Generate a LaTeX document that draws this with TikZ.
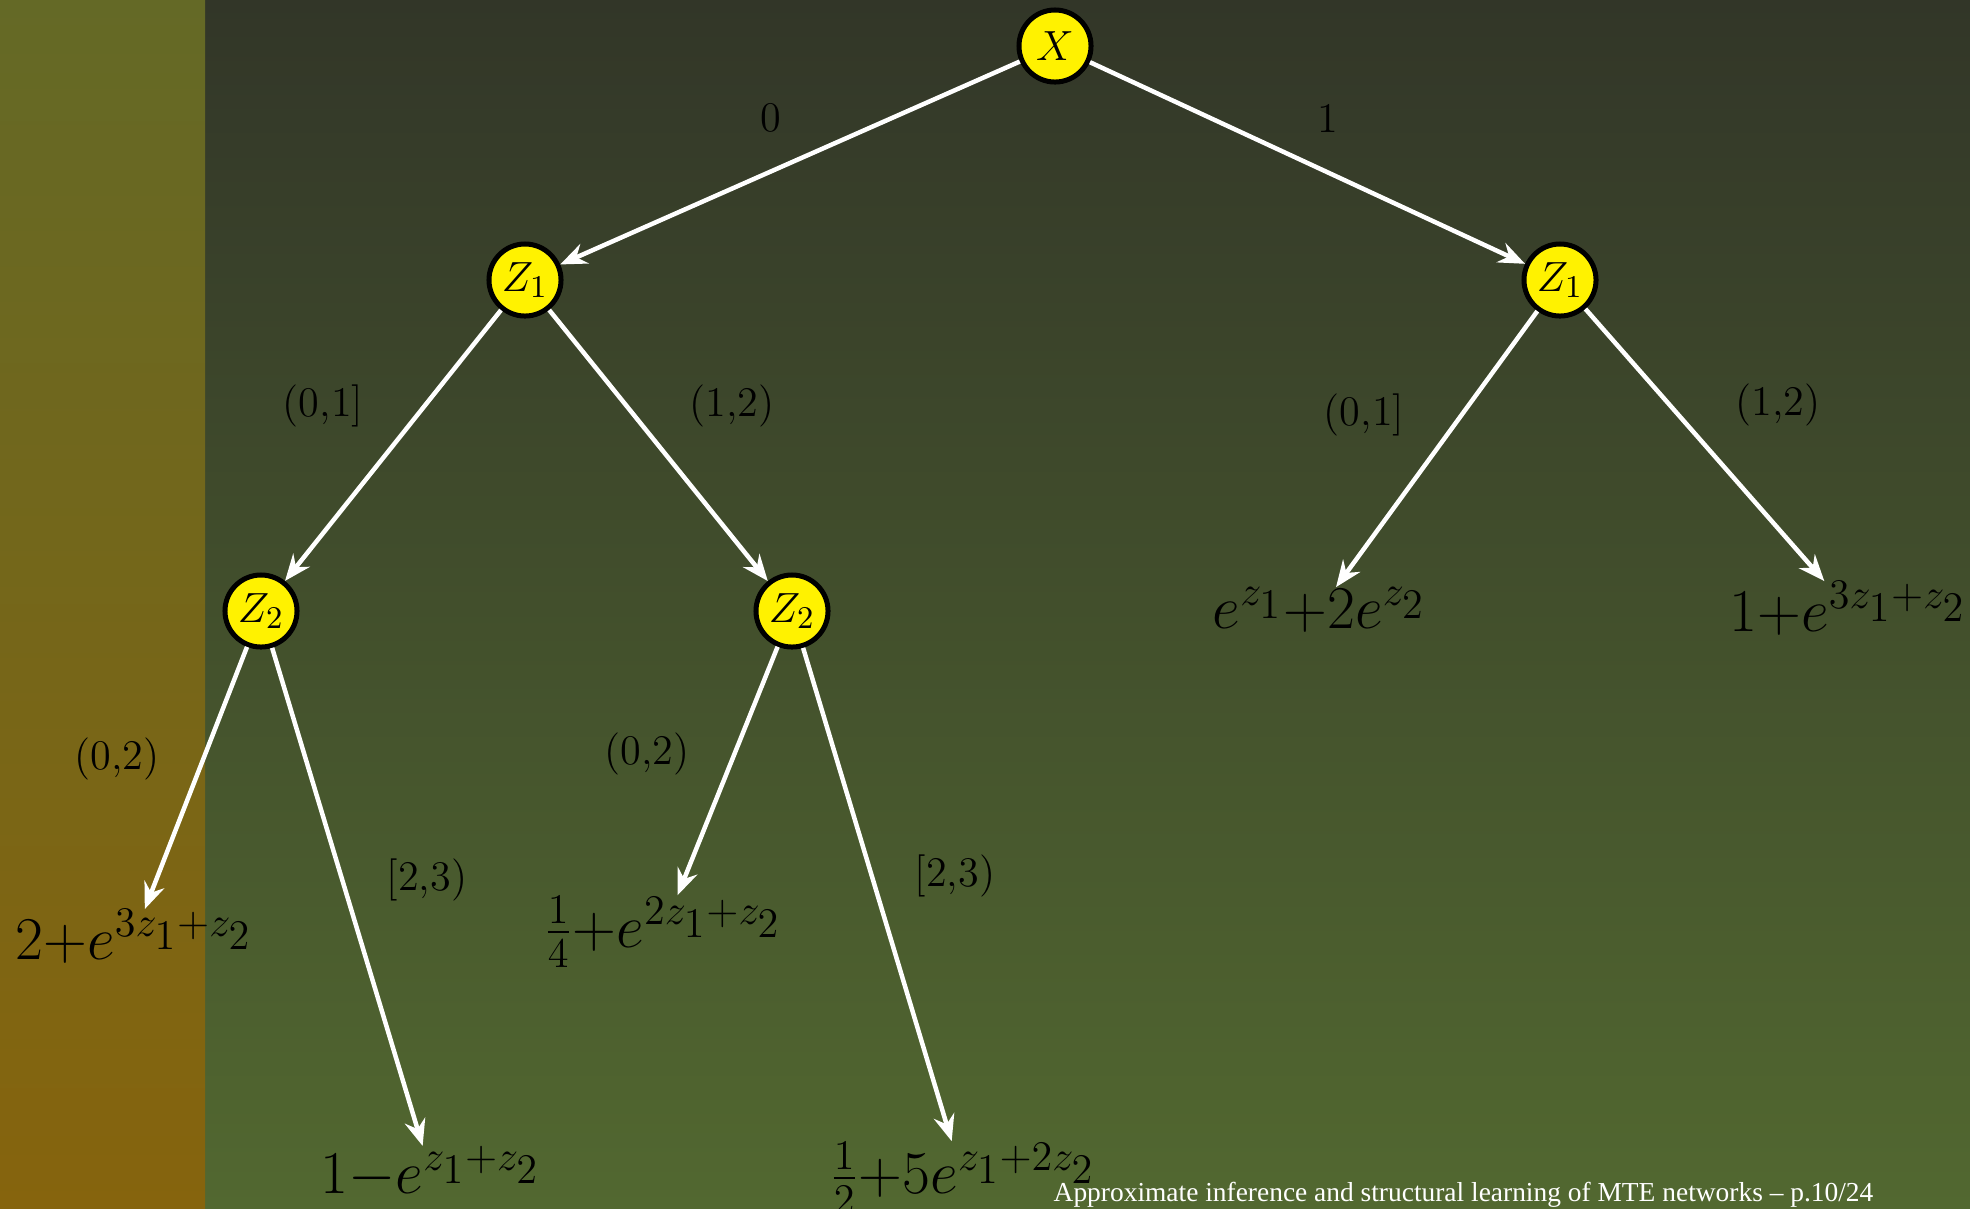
\documentclass[tikz,border=0pt]{standalone}
\usepackage{fontspec}
\usepackage{tikz}
\usetikzlibrary{arrows.meta}
\newfontfamily\slidefoot{Liberation Serif}
\definecolor{stripTop}{RGB}{100,105,38}
\definecolor{stripBot}{RGB}{134,100,13}
\definecolor{slideTop}{RGB}{50,54,40}
\definecolor{slideBot}{RGB}{82,104,48}
\newcommand{\zsub}[1]{z_{\scriptstyle #1}}
\tikzset{
  cvertex/.style={
    circle,
    draw=black,
    fill=yellow,
    line width=0.05cm,
    minimum size=0.72cm,
    inner sep=0pt,
    font=\fontsize{12.5}{14}\selectfont
  },
  leafval/.style={
    anchor=base west,
    inner sep=0pt,
    font=\fontsize{18}{20}\selectfont
  },
  treearc/.style={
    -{Stealth[length=7.5pt,width=6pt,inset=2.5pt]},
    draw=white,
    line width=0.045cm
  },
  intlabel/.style={
    font=\fontsize{12}{14}\selectfont
  }
}

\begin{document}
\begin{tikzpicture}[x=0.01cm,y=-0.01cm]
  \useasboundingbox (0,0) rectangle (1970,1208);
  \shade[top color=slideTop,bottom color=slideBot] (205,0) rectangle (1970,1208);
  \shade[top color=stripTop,bottom color=stripBot] (0,0) rectangle (205,1208);

  \node[cvertex] (x) at (1055,46) {$X$};
  \node[cvertex] (z1a) at (525,280) {$Z_1$};
  \node[cvertex] (z1b) at (1560,280) {$Z_1$};
  \node[cvertex] (z2a) at (261,611) {$Z_2$};
  \node[cvertex] (z2b) at (792,611) {$Z_2$};

  % leaves
  \node[leafval] (fa) at (15,959) {$2{+}e^{3\zsub1+\zsub2}$};
  \node[leafval] (fb) at (320,1193) {$1{-}e^{\zsub1+\zsub2}$};
  \node[leafval] (fc) at (543,947) {$\frac{1}{4}{+}e^{2\zsub1+\zsub2}$};
  \node[leafval] (fd) at (829,1193) {$\frac{1}{2}{+}5e^{\zsub1+2\zsub2}$};
  \node[leafval] (fe) at (1212,628) {$e^{\zsub1}{+}2e^{\zsub2}$};
  \node[leafval] (ff) at (1729,631) {$1{+}e^{3\zsub1+\zsub2}$};

  \draw[treearc] (x) -- (z1a);
  \draw[treearc] (x) -- (z1b);
  \draw[treearc] (z1a) -- (z2a);
  \draw[treearc] (z1a) -- (z2b);
  \draw[treearc] (z1b) -- (fe);
  \draw[treearc] (z1b) -- (ff);
  \draw[treearc] (z2a) -- (fa);
  \draw[treearc] (z2a) -- (fb);
  \draw[treearc] (z2b) -- (fc);
  \draw[treearc] (z2b) -- (fd);

  % intervals
  \node[intlabel] (l0) at (771,118) {0};
  \node[intlabel] (l1) at (1328,118) {1};
  \node[intlabel] (la1) at (323,406) {(0,1]};
  \node[intlabel] (la2) at (732,406) {(1,2)};
  \node[intlabel] (lb1) at (1364,415) {(0,1]};
  \node[intlabel] (lb2) at (1778,405) {(1,2)};
  \node[intlabel] (lc1) at (117,759) {(0,2)};
  \node[intlabel] (lc2) at (427,880) {[2,3)};
  \node[intlabel] (ld1) at (647,754) {(0,2)};
  \node[intlabel] (ld2) at (955,876) {[2,3)};

  \node[anchor=base west,inner sep=0pt,text=white,font=\slidefoot\fontsize{7.8}{9}\selectfont] (foot) at (1053,1201) {Approximate inference and structural learning of MTE networks – p.10/24};
\end{tikzpicture}
\end{document}
